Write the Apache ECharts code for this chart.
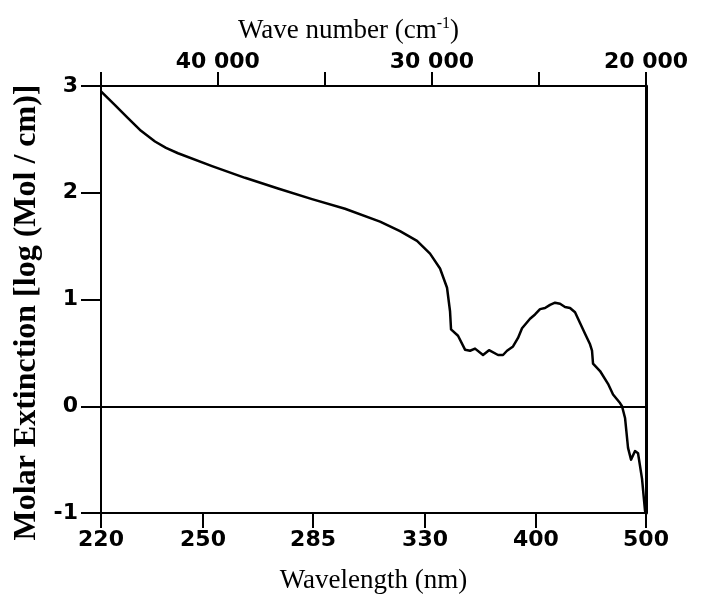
<!DOCTYPE html>
<html>
<head>
<meta charset="utf-8">
<script src="https://cdn.jsdelivr.net/npm/echarts@6/dist/echarts.min.js"></script>
<style>html,body{margin:0;padding:0;background:#fff;}#c{width:703px;height:607px;}</style>
</head>
<body>
<div id="c"></div>
<script>
// Wave number (cm^-1) of each read point
const waveNumber = [45455, 44801, 44194, 43587, 42933, 42419, 41858, 40270, 38729, 37187, 35599, 34058, 32423, 31489,
  30695, 30087, 29620, 29293, 29153, 29106, 28780, 28453, 28219, 27985, 27612, 27332, 26911, 26678,
  26491, 26210, 25977, 25790, 25416, 25183, 24949, 24716, 24482, 24249, 24015, 23782, 23548, 23314,
  23081, 22847, 22614, 22521, 22474, 22147, 21773, 21539, 21213, 21120, 20979, 20839, 20699, 20512,
  20372, 20185, 20045, 20000];
// Molar extinction, log(Mol/cm)
const extinction = [2.95, 2.82, 2.70, 2.58, 2.48, 2.42, 2.37, 2.25, 2.14, 2.04, 1.94, 1.85, 1.73, 1.64,
  1.55, 1.43, 1.29, 1.11, 0.89, 0.72, 0.66, 0.53, 0.52, 0.54, 0.48, 0.525, 0.48, 0.48,
  0.52, 0.56, 0.64, 0.73, 0.82, 0.86, 0.91, 0.92, 0.95, 0.97, 0.96, 0.93, 0.92, 0.88,
  0.78, 0.68, 0.58, 0.52, 0.40, 0.33, 0.21, 0.11, 0.03, 0.0, -0.11, -0.39, -0.50, -0.42,
  -0.44, -0.68, -0.98, -1.0];

// bottom axis: wavelength tick labels (nm) and where they sit on the wave number scale
const bottomTickLabels = [220, 250, 285, 330, 400, 500];
const bottomTickWn = [45455, 40690, 35550, 30320, 25140, 20000];
// top axis: wave number ticks and labelled ticks
const topTickWn = [45455, 40000, 35000, 30000, 25000, 20000];
const topLabelWn = [40000, 30000, 20000];
const yTicks = [-1, 0, 1, 2, 3];

const tickFont = {fontFamily: 'DejaVu Sans', fontWeight: 'bold', fontSize: 22, color: '#000'};
const black2 = {color: '#000', width: 2};

const chart = echarts.init(document.getElementById('c'), null, {renderer: 'canvas'});
chart.setOption({
  animation: false,
  backgroundColor: '#fff',
  grid: {left: 101, right: 57, top: 86, bottom: 94, containLabel: false, outerBoundsMode: 'none'},
  xAxis: [
    {
      type: 'value', position: 'bottom', min: 20000, max: 45455, inverse: true,
      axisLine: {onZero: false, lineStyle: black2},
      axisTick: {show: true, inside: false, length: 15, lineStyle: black2, customValues: bottomTickWn},
      axisLabel: Object.assign({margin: 16, customValues: bottomTickWn,
        formatter: v => { const i = bottomTickWn.indexOf(v); return i >= 0 ? String(bottomTickLabels[i]) : ''; }}, tickFont),
      splitLine: {show: false},
      name: 'Wavelength (nm)', nameLocation: 'middle', nameGap: 54,
      nameTextStyle: {fontFamily: 'Liberation Serif', fontSize: 27, color: '#000'}
    },
    {
      type: 'value', position: 'top', min: 20000, max: 45455, inverse: true,
      axisLine: {onZero: false, lineStyle: black2},
      axisTick: {show: true, inside: false, length: 14, lineStyle: black2, customValues: topTickWn},
      axisLabel: Object.assign({margin: 13, customValues: topLabelWn,
        formatter: v => String(v).replace(/(\d+)(\d{3})$/, '$1 $2')}, tickFont),
      splitLine: {show: false},
      name: 'Wave number (cm{sup|-1}{n|)}', nameLocation: 'middle', nameGap: 40,
      nameTextStyle: {fontFamily: 'Liberation Serif', fontSize: 27, color: '#000', padding: [0, 50, 0, 0],
        rich: {
          sup: {fontFamily: 'Liberation Serif', fontSize: 16, color: '#000', verticalAlign: 'top', lineHeight: 30},
          n: {fontFamily: 'Liberation Serif', fontSize: 27, color: '#000'}
        }}
    }
  ],
  yAxis: [
    {
      type: 'value', position: 'left', min: -1, max: 3, interval: 1,
      axisLine: {onZero: false, lineStyle: black2},
      axisTick: {show: true, inside: false, length: 20, lineStyle: black2},
      axisLabel: Object.assign({margin: 23, customValues: yTicks}, tickFont),
      splitLine: {show: false},
      name: 'Molar Extinction [log (Mol / cm)]', nameLocation: 'middle', nameGap: 55, nameRotate: 90,
      nameTextStyle: {fontFamily: 'Liberation Serif', fontWeight: 'bold', fontSize: 32, color: '#000', padding: [0, 26, 0, 0]}
    },
    {
      type: 'value', position: 'right', min: -1, max: 3, interval: 1,
      axisLine: {show: true, onZero: false, lineStyle: {color: '#000', width: 3}},
      axisTick: {show: false}, axisLabel: {show: false}, splitLine: {show: false}
    }
  ],
  series: [{
    type: 'line', xAxisIndex: 0, yAxisIndex: 0,
    data: waveNumber.map((w, i) => [w, extinction[i]]),
    showSymbol: false, smooth: false,
    lineStyle: {color: '#000', width: 2.5, join: 'round'},
    markLine: {
      silent: true, symbol: ['none', 'none'], label: {show: false},
      lineStyle: {color: '#000', width: 2, type: 'solid'},
      data: [{yAxis: 0}]
    }
  }]
});
</script>
</body>
</html>
